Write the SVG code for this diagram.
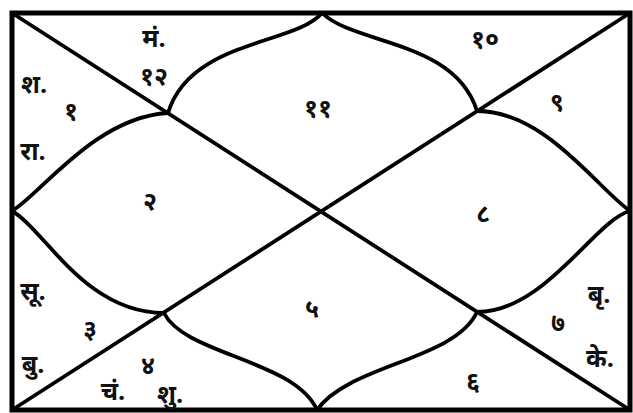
<svg xmlns="http://www.w3.org/2000/svg" width="633" height="413" viewBox="0 0 633 413">
<style>
.frame{fill:none;stroke:#000;stroke-width:5}
.ln{fill:none;stroke:#000;stroke-width:3.8;stroke-linecap:round;stroke-linejoin:round}
text{font-family:"Noto Sans Devanagari","Noto Sans","Lohit Devanagari","FreeSans",sans-serif;font-size:25px;font-weight:bold;fill:#111;text-anchor:middle}
</style>
<rect width="633" height="413" fill="#fff"/>
<rect class="frame" x="12" y="13" width="618" height="397"/>
<g id="connectors">
<line class="ln" x1="12" y1="13" x2="630" y2="410"/>
<line class="ln" x1="630" y1="13" x2="12" y2="410"/>
<path class="ln" d="M322,13 C295,45 190,40 168,113"/>
<path class="ln" d="M322,13 C355,45 455,40 477,111"/>
<path class="ln" d="M12,211 C40,195 95,117 168,113"/>
<path class="ln" d="M12,211 C45,230 85,313 164,313"/>
<path class="ln" d="M630,211 C597,188 545,111 477,111"/>
<path class="ln" d="M630,211 C595,220 545,312 477,312"/>
<path class="ln" d="M317,410 C295,360 185,355 164,313"/>
<path class="ln" d="M317,410 C348,365 455,360 477,312"/>
</g>
<g id="house1"><text x="71" y="120">१</text><text x="34" y="93">श.</text><text x="33" y="160">रा.</text></g>
<g id="house2"><text x="150" y="210">२</text></g>
<g id="house3"><text x="90" y="338">३</text><text x="33" y="300">सू.</text><text x="33" y="373">बु.</text></g>
<g id="house4"><text x="148" y="374">४</text><text x="113" y="400">चं.</text><text x="170" y="403">शु.</text></g>
<g id="house5"><text x="312" y="318">५</text></g>
<g id="house6"><text x="473" y="390">६</text></g>
<g id="house7"><text x="558" y="331">७</text><text x="599" y="303">बृ.</text><text x="600" y="367">के.</text></g>
<g id="house8"><text x="483" y="222">८</text></g>
<g id="house9"><text x="557" y="111">९</text></g>
<g id="house10"><text x="485" y="48">१०</text></g>
<g id="house11"><text x="318" y="117">११</text></g>
<g id="house12"><text x="154" y="85">१२</text><text x="154" y="47">मं.</text></g>
</svg>
